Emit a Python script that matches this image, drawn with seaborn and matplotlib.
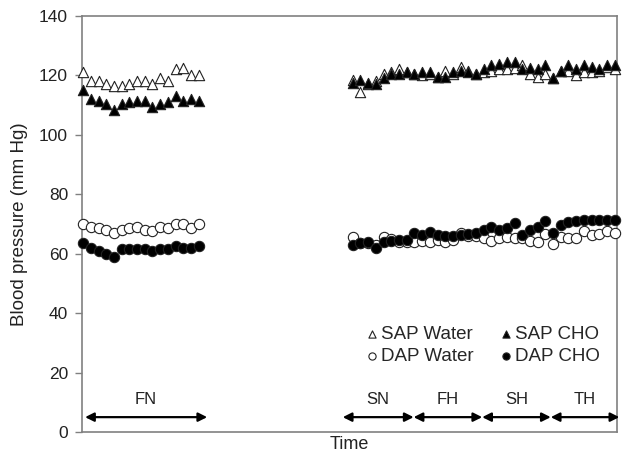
import matplotlib
matplotlib.use("Agg")
import matplotlib.pyplot as plt
import pandas as pd
import seaborn as sns

# time positions (one point per sample, gap between FN and the later phases)
fn_time = list(range(0, 16))
rest_time = list(range(35, 70))

sap_water = [121, 118, 118, 117, 116.5, 116.5, 117, 118, 118, 117, 119, 118, 122, 122.5, 120, 120,
             118.5, 114.5, 117, 118, 120.5, 121, 122, 121, 120.5, 120, 120.5, 119.5, 121.5, 120.5, 123, 121.5, 120.5, 121,
             121.5, 122, 122, 122.5, 123.5, 120.5, 119.5, 120.5, 119, 121.5, 121.5, 120, 121, 121, 121.5, 123, 122]
sap_cho = [115, 112, 111.5, 110.5, 108.5, 110.5, 111, 111.5, 111.5, 109.5, 110.5, 111, 113, 111.5, 112, 111.5,
           117.5, 118.5, 117.5, 117, 119, 120.5, 120.5, 121, 120.5, 121, 121, 119.5, 119.5, 121, 121.5, 121, 120.5, 122,
           123.5, 124, 124.5, 124.5, 122, 122.5, 122, 123.5, 119, 121.5, 123.5, 122, 123.5, 123, 122, 123.5, 123.5]
dap_water = [70, 69, 68.5, 68, 67, 68, 68.5, 69, 68, 67.5, 69, 68.5, 70, 70, 68.5, 70,
             65.5, 63.5, 63.5, 63, 65.5, 65, 64, 64, 63.9, 64.2, 63.9, 64.5, 63.9, 64.5, 66.9, 65.8, 65.8, 65.2,
             64.3, 65.2, 65.7, 65.2, 65.2, 64.3, 64, 66.6, 63.2, 65.5, 65.2, 65.2, 67.5, 66.4, 66.6, 67.5, 67]
dap_cho = [63.5, 62, 61, 60, 59, 61.5, 61.5, 61.5, 61.5, 61, 61.5, 61.5, 62.5, 62, 62, 62.5,
           63, 63.5, 63.9, 61.8, 63.9, 64.2, 64.5, 64.5, 66.9, 66.4, 67.3, 66.2, 65.8, 65.8, 66.4, 66.6, 67, 68.1,
           68.9, 68, 68.6, 70.3, 66.4, 68, 68.9, 70.9, 66.9, 69.8, 70.7, 70.9, 71.2, 71.5, 71.5, 71.2, 71.5]

phases = ['FN', 'SN', 'FH', 'SH', 'TH']
phase_start = [0.25, 33.7, 42.9, 51.8, 60.7]
phase_end = [16.1, 42.9, 51.8, 60.7, 69.6]

time = fn_time + rest_time
df = pd.DataFrame({'time': time, 'SAP Water': sap_water, 'SAP CHO': sap_cho,
                   'DAP Water': dap_water, 'DAP CHO': dap_cho})

sns.set_style("white")
plt.rcParams['font.family'] = ['Liberation Sans', 'DejaVu Sans']

fig = plt.figure(figsize=(6.22, 4.58), dpi=100)
ax = fig.add_axes([82 / 622, 26 / 458, 535 / 622, 416 / 458])

# water first so the CHO markers sit on top
styles = [('SAP Water', '^', 'white'), ('DAP Water', 'o', 'white'),
          ('SAP CHO', '^', 'black'), ('DAP CHO', 'o', 'black')]
for name, mk, face in styles:
    sns.scatterplot(data=df, x='time', y=name, marker=mk, color=face, edgecolor='#222222',
                    linewidth=0.8, s=55, label=name, ax=ax, clip_on=False, zorder=3)

ax.set_xlim(-0.15, 69.3)
ax.set_ylim(0, 140)
ax.set_yticks(range(0, 141, 20))
ax.set_xticks([])
ax.tick_params(axis='y', direction='out', length=5, width=1, color='#808080',
               labelsize=12.5, labelcolor='#222222', pad=5, left=True)
for sp in ax.spines.values():
    sp.set_color('#808080')
    sp.set_linewidth(1.2)

ax.set_xlabel('Time', fontsize=13, color='#222222', labelpad=3)
ax.set_ylabel('Blood pressure (mm Hg)', fontsize=13.5, color='#222222', labelpad=8)

for lab, x0, x1 in zip(phases, phase_start, phase_end):
    ax.annotate('', xy=(x1, 5), xytext=(x0, 5), annotation_clip=False,
                arrowprops=dict(arrowstyle='<|-|>', color='black', lw=1.6,
                                mutation_scale=13, shrinkA=0, shrinkB=0))
    ax.text((x0 + x1) / 2, 8.5, lab, ha='center', va='bottom', fontsize=12, color='#222222')

ax.legend(ncol=2, frameon=False, loc='lower right', bbox_to_anchor=(1.0, 0.12),
          fontsize=13.5, markerscale=0.7, handletextpad=0.1, columnspacing=1.3,
          labelspacing=0.25, handlelength=0.8)

fig.savefig('out.png', dpi=100)
